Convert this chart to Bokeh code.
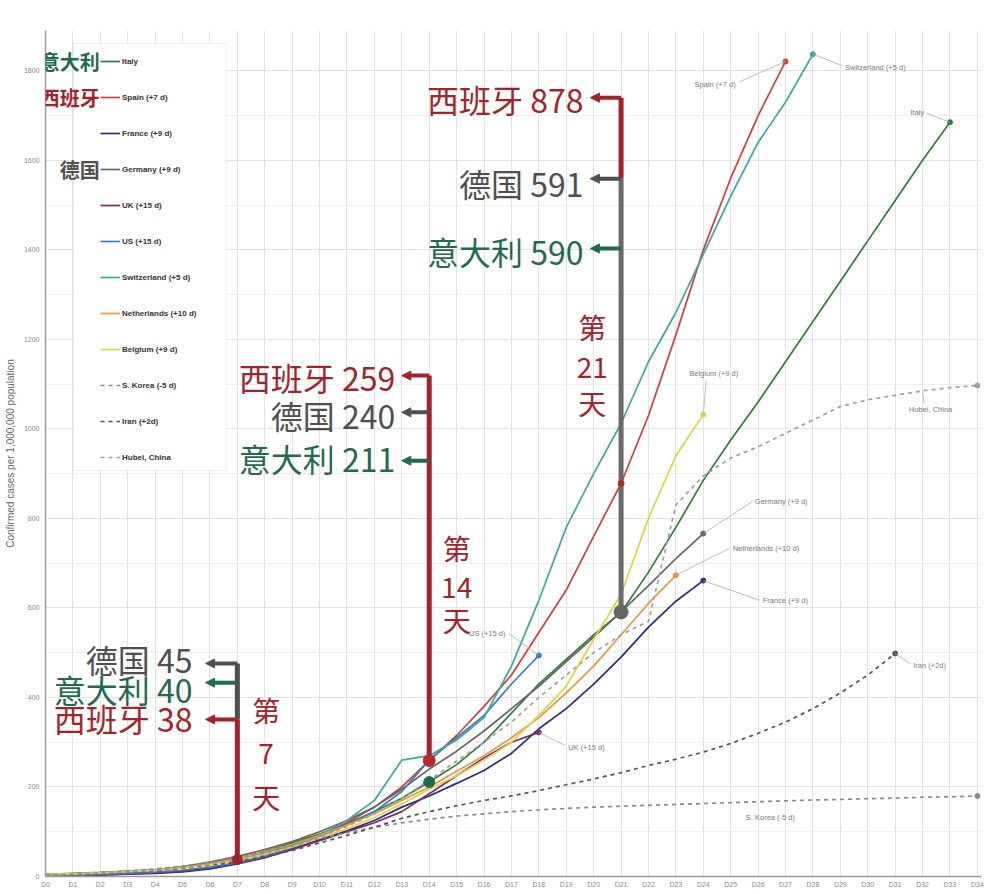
import numpy as np
from bokeh.plotting import figure
from bokeh.models import (Range1d, FixedTicker, Legend, LegendItem, BoxAnnotation,
                          Arrow, NormalHead, ColumnDataSource, Label)
from bokeh.core.properties import value
from bokeh.embed import file_html
from bokeh.resources import INLINE

# ---------------- data ----------------
days = list(range(35))
day_labels = [f"D{i}" for i in days]
y_ticks = [0, 200, 400, 600, 800, 1000, 1200, 1400, 1600, 1800]

italy = [5, 7, 9, 12, 15, 20, 28, 40, 55, 75, 95, 118, 145, 175, 211, 250, 300, 365, 430, 485,
         540, 590, 680, 780, 885, 975, 1060, 1150, 1240, 1330, 1420, 1510, 1600, 1685]
spain = [3, 5, 7, 10, 14, 20, 28, 38, 52, 70, 92, 120, 155, 200, 259, 315, 380, 450, 545, 640,
         760, 878, 1030, 1210, 1400, 1560, 1700, 1821]
france = [1, 2, 3, 5, 7, 10, 17, 28, 42, 62, 82, 102, 125, 155, 180, 208, 237, 275, 330, 375,
          430, 490, 557, 615, 661]
germany = [4, 6, 8, 11, 15, 22, 32, 45, 60, 78, 100, 125, 155, 195, 240, 280, 325, 375, 425, 480,
           535, 591, 650, 710, 766]
uk = [2, 3, 4, 6, 8, 12, 19, 30, 42, 60, 80, 100, 120, 145, 185, 225, 265, 300, 322]
us = [2, 3, 5, 7, 10, 14, 21, 31, 45, 65, 90, 115, 145, 190, 260, 310, 360, 430, 494]
switzerland = [4, 6, 8, 11, 15, 20, 27, 36, 50, 68, 92, 125, 170, 260, 270, 305, 355, 470, 617, 780,
               900, 1012, 1150, 1260, 1390, 1520, 1640, 1730, 1837]
netherlands = [4, 6, 8, 11, 15, 21, 29, 40, 55, 72, 92, 115, 140, 170, 200, 235, 270, 310, 355, 410,
               470, 540, 610, 673]
belgium = [4, 6, 8, 11, 14, 19, 26, 36, 50, 66, 86, 107, 132, 162, 195, 225, 260, 300, 360, 425,
           530, 630, 800, 940, 1032]
skorea = [3, 5, 8, 12, 17, 23, 32, 42, 55, 70, 85, 98, 110, 120, 128, 135, 140, 145, 149, 152,
          155, 157, 159, 161, 163, 165, 167, 169, 171, 172, 174, 175, 177, 178, 180]
iran = [2, 4, 6, 9, 13, 18, 25, 33, 45, 58, 75, 92, 110, 130, 145, 158, 170, 180, 192, 205,
        218, 232, 248, 262, 278, 297, 320, 345, 375, 410, 450, 498]
hubei = [3, 5, 7, 10, 14, 19, 27, 37, 50, 67, 88, 112, 140, 175, 215, 258, 300, 345, 400, 450,
         500, 540, 570, 830, 895, 935, 960, 990, 1020, 1050, 1065, 1075, 1085, 1092, 1097]

series_names = ["Italy", "Spain (+7 d)", "France (+9 d)", "Germany (+9 d)", "UK (+15 d)",
                "US (+15 d)", "Switzerland (+5 d)", "Netherlands (+10 d)", "Belgium (+9 d)",
                "S. Korea (-5 d)", "Iran (+2d)", "Hubei, China"]
series_values = [italy, spain, france, germany, uk, us, switzerland, netherlands, belgium,
                 skorea, iran, hubei]

# Chinese callouts: countries and the days that are highlighted
cn_names = {"spain": "西班牙", "germany": "德国", "italy": "意大利"}
callout_days = [7, 14, 21]

# ---------------- styles / layout ----------------
colors = ["#2e7d32", "#cf3f3f", "#2b2b85", "#666666", "#7a2b6d", "#3a7cbf", "#3aa8a0",
          "#e6963f", "#e3d33c", "#8a8a8a", "#555555", "#a0a0a0"]
dashes = ["solid"] * 9 + ["4 4", "4 4", "4 4"]
cn_col = {"spain": "#a3232b", "germany": "#4f4f4f", "italy": "#1f6b50"}
CJK = value("Noto Sans CJK SC")
SANS = value("Liberation Sans")

p = figure(width=988, height=894, output_backend="svg", toolbar_location=None,
           x_range=Range1d(0, 34.15), y_range=Range1d(0, 1890),
           min_border_left=45, min_border_right=7, min_border_top=30, min_border_bottom=18,
           background_fill_color="white", border_fill_color="white")
p.outline_line_color = None

# axes
p.xaxis.ticker = FixedTicker(ticks=days)
p.xaxis.major_label_overrides = {d: lab for d, lab in zip(days, day_labels)}
p.yaxis.ticker = FixedTicker(ticks=y_ticks, minor_ticks=[t + 100 for t in y_ticks])
for ax in (p.xaxis[0], p.yaxis[0]):
    ax.axis_line_color = "#9a9a9a"
    ax.axis_line_width = 1.5
    ax.major_tick_line_color = None
    ax.minor_tick_line_color = None
    ax.major_tick_out = 0
    ax.major_tick_in = 0
    ax.minor_tick_out = 0
    ax.minor_tick_in = 0
    ax.major_label_text_font_size = "7px"
    ax.major_label_text_color = "#8a8a8a"
    ax.major_label_text_font = "Liberation Sans"
p.xaxis.major_label_standoff = 4
p.yaxis.major_label_standoff = 6
p.yaxis.axis_label = "Confirmed cases per 1,000,000 population"
p.yaxis.axis_label_text_font_size = "10px"
p.yaxis.axis_label_text_font_style = "normal"
p.yaxis.axis_label_text_color = "#666666"
p.yaxis.axis_label_text_font = "Liberation Sans"
p.yaxis.axis_label_standoff = 5
p.xgrid.grid_line_color = "#e3e3e3"
p.ygrid.grid_line_color = "#e3e3e3"
p.ygrid.minor_grid_line_color = "#efefef"

# legend box (drawn under glyphs)
lbox = BoxAnnotation(left=1.02, right=6.59, top=1861, bottom=907, fill_color="white",
                     fill_alpha=1.0, line_color="#c8c8c8", line_width=1, level="underlay")
p.add_layout(lbox)

# series lines
items = []
for name, vals, col, dash in zip(series_names, series_values, colors, dashes):
    xs = days[:len(vals)]
    r = p.line(xs, vals, line_color=col, line_width=1.7, line_dash=dash)
    p.scatter([xs[-1]], [vals[-1]], size=5, color=col)
    items.append(LegendItem(label=name, renderers=[r]))

legend = Legend(items=items, location=(55, 409), orientation="vertical", padding=0,
                spacing=16, label_height=20, glyph_height=20, glyph_width=20,
                label_standoff=2, border_line_color=None, background_fill_alpha=0,
                label_text_font="Liberation Sans", label_text_font_size="8px",
                label_text_font_style="bold", label_text_color="#333333", margin=0)
p.add_layout(legend)

# end-of-line labels with leader lines
end_lab = {  # name: (text x, text y, align, leader start x, leader start y)
    "Spain (+7 d)": (25.18, 1770, "right", 25.3, 1775),
    "Switzerland (+5 d)": (29.17, 1808, "left", 29.05, 1812),
    "Italy": (32.06, 1707, "right", 32.15, 1705),
    "Belgium (+9 d)": (24.38, 1124, "center", 24.1, 1108),
    "Hubei, China": (31.5, 1044, "left", 32.05, 1058),
    "Germany (+9 d)": (25.88, 838, "left", 25.8, 838),
    "Netherlands (+10 d)": (25.07, 733, "left", 24.95, 733),
    "France (+9 d)": (26.17, 617, "left", 26.05, 617),
    "US (+15 d)": (15.45, 543, "left", 16.9, 543),
    "UK (+15 d)": (19.07, 288, "left", 18.95, 293),
    "S. Korea (-5 d)": (25.55, 132, "left", None, None),
    "Iran (+2d)": (31.66, 471, "left", 31.55, 475),
}
anchor = {"Hubei, China": (32, 1085)}
for name, vals in zip(series_names, series_values):
    tx, ty, al, lx, ly = end_lab[name]
    if lx is not None:
        ex, ey = anchor.get(name, (len(vals) - 1, vals[-1]))
        p.segment([lx], [ly], [ex], [ey], line_color="#b5b5b5", line_width=0.9)
    p.text([tx], [ty], text=[name], text_font=SANS, text_font_size="7.5px",
           text_color="#7a7a7a", text_align=al, text_baseline="middle")

# Chinese names next to legend entries (Label: not clipped by the frame)
leg_cn = [("italy", 1821), ("spain", 1741), ("germany", 1580)]
for key, yy in leg_cn:
    p.add_layout(Label(x=1.98, y=yy, text=cn_names[key], text_font="Noto Sans CJK SC",
                       text_font_size="20px", text_font_style="bold", text_color=cn_col[key],
                       text_align="right", text_baseline="middle"))

# ---------------- day callouts ----------------
series_by_key = {"spain": spain, "germany": germany, "italy": italy}
callout_rows = {  # day: (text right x, arrow tip x, {country: (arrow y, text y)})
    7: (5.36, 5.84, {"germany": (476, 487), "italy": (433, 420), "spain": (351, 353)}),
    14: (12.76, 13.0, {"spain": (1119, 1115), "germany": (1037, 1030), "italy": (929, 936)}),
    21: (19.63, 19.88, {"spain": (1740, 1738), "germany": (1559, 1550), "italy": (1403, 1398)}),
}
for d in callout_days:
    tr, tip, rows = callout_rows[d]
    for key, (ay, ty) in rows.items():
        col = cn_col[key]
        src = ColumnDataSource(dict(x0=[d], y0=[ay], x1=[tip], y1=[ay]))
        p.add_layout(Arrow(x_start="x0", y_start="y0", x_end="x1", y_end="y1", source=src,
                           line_color=col, line_width=4,
                           end=NormalHead(size=9, fill_color=col, line_color=col)))
        p.text([tr], [ty], text=[f"{cn_names[key]} {series_by_key[key][d]}"], text_font=CJK,
               text_font_size="32px", text_color=cn_col[key],
               text_align="right", text_baseline="middle")

r7, r14, r21 = (callout_rows[d][2] for d in callout_days)
# vertical stems
p.segment([7], [r7["germany"][0]], [7], [r7["spain"][0]], line_color=cn_col["germany"], line_width=5)
p.segment([7], [r7["spain"][0]], [7], [spain[7]], line_color=cn_col["spain"], line_width=5)
p.segment([14], [r14["spain"][0]], [14], [spain[14]], line_color=cn_col["spain"], line_width=5)
p.segment([21], [r21["spain"][0]], [21], [r21["germany"][0]], line_color=cn_col["spain"], line_width=5)
p.segment([21], [r21["germany"][0]], [21], [germany[21]], line_color="#6a6a6a", line_width=5)

# highlighted points
p.scatter([7], [spain[7]], size=10, color=cn_col["spain"])
p.scatter([14], [italy[14]], size=11, color=cn_col["italy"])
p.scatter([14], [spain[14]], size=12, color="#b52a2a")
p.scatter([21], [germany[21]], size=14, color="#666666")
p.scatter([21], [spain[21]], size=6, color="#b52a2a")

# "第 N 天" vertical captions
day_caps = {7: (8.05, [371, 275, 177]), 14: (15.0, [735, 646, 572]), 21: (19.95, [1227, 1137, 1057])}
for d in callout_days:
    cx, ys = day_caps[d]
    p.text([cx] * 3, ys, text=["第", str(d), "天"], text_font=CJK, text_font_size="28px",
           text_color="#a3232b", text_align="center", text_baseline="middle")

open("out.html", "w").write(file_html(p, INLINE))
